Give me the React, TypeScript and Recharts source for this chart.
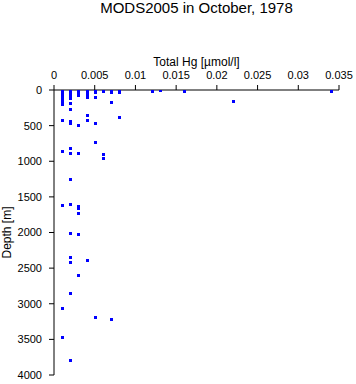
import { Scatter, ScatterChart, XAxis, YAxis } from 'recharts'

const W = 356
const H = 384
const FONT = '"Liberation Sans", Arial, sans-serif'
const BLUE = '#0000ff'

const TITLE = 'MODS2005 in October, 1978'
const X_LABEL = 'Total Hg [µmol/l]'
const Y_LABEL = 'Depth [m]'

const X_TICKS = [0, 0.005, 0.01, 0.015, 0.02, 0.025, 0.03, 0.035]
const Y_TICKS = [0, 500, 1000, 1500, 2000, 2500, 3000, 3500, 4000]

// Hg concentration per sample group, depths
const HG_LEVELS = [0.001, 0.002, 0.003, 0.004, 0.005, 0.006, 0.007, 0.008, 0.012, 0.013, 0.016, 0.022, 0.034]
const DEPTHS: number[][] = [
  [0, 10, 25, 50, 75, 100, 125, 150, 175, 200, 420, 850, 1620, 3060, 3460],
  [0, 10, 25, 50, 70, 115, 180, 265, 430, 470, 815, 885, 1255, 1600, 2005, 2350, 2420, 2855, 3785],
  [0, 10, 25, 50, 75, 485, 890, 1635, 1650, 1725, 2025, 2600],
  [0, 10, 30, 60, 100, 350, 425, 2390],
  [0, 10, 30, 105, 470, 725, 3180],
  [0, 20, 905, 960],
  [0, 35, 175, 3215],
  [0, 35, 385],
  [15],
  [0],
  [10],
  [155],
  [15],
]

const points = HG_LEVELS.flatMap((hg, i) => DEPTHS[i].map((depth) => ({ hg, depth })))

function Marker({ cx, cy }: { cx?: number; cy?: number }) {
  if (cx == null || cy == null) return null
  return (
    <rect
      x={Math.round(cx) - 1.5}
      y={Math.round(cy) - 1.5}
      width={3}
      height={3}
      fill={BLUE}
      shapeRendering="crispEdges"
    />
  )
}

const tickStyle = { fill: '#000', fontSize: 11, fontFamily: FONT }

export default function App() {
  return (
    <div style={{ position: 'absolute', left: 0, top: 0, width: W, height: H, background: '#fff' }}>
      <ScatterChart width={W} height={H} margin={{ top: 0, right: 17, bottom: 9, left: 0 }}>
        <text
          x={196.5}
          y={13}
          textAnchor="middle"
          fontFamily={FONT}
          fontSize={15}
          fill="#000"
        >
          {TITLE}
        </text>
        <text
          x={196.5}
          y={66}
          textAnchor="middle"
          fontFamily={FONT}
          fontSize={12}
          fill="#000"
        >
          {X_LABEL}
        </text>
        <text
          x={10.5}
          y={232.5}
          transform="rotate(-90, 10.5, 232.5)"
          textAnchor="middle"
          fontFamily={FONT}
          fontSize={12}
          fill="#000"
        >
          {Y_LABEL}
        </text>
        <XAxis
          type="number"
          dataKey="hg"
          orientation="top"
          height={90}
          domain={[0, 0.035]}
          ticks={X_TICKS}
          interval={0}
          tick={tickStyle}
          tickSize={5}
          tickMargin={6}
          stroke="#000"
          allowDataOverflow
        />
        <YAxis
          type="number"
          dataKey="depth"
          reversed
          width={54}
          domain={[0, 4000]}
          ticks={Y_TICKS}
          interval={0}
          tick={tickStyle}
          tickSize={5}
          tickMargin={7}
          stroke="#000"
          allowDataOverflow
        />
        <Scatter data={points} shape={<Marker />} isAnimationActive={false} />
      </ScatterChart>
    </div>
  )
}
